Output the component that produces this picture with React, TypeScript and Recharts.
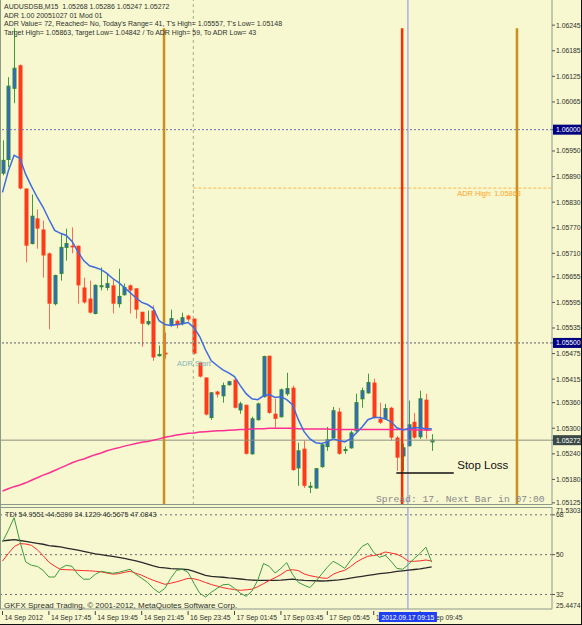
import { ComposedChart, Bar, Line, XAxis, YAxis, ReferenceLine, ReferenceDot } from 'recharts';

// AUDUSDSB M15, 14 Sep 2012 15:45 .. 17 Sep 2012 10:15 (75 bars)
const OPEN = [
  1.05898, 1.0593, 1.06097, 1.06151, 1.05862, 1.05733, 1.05792, 1.05766, 1.0571, 1.05592,
  1.05663, 1.05724, 1.05728, 1.05728, 1.0563, 1.05604, 1.05569, 1.05632, 1.0563, 1.05635,
  1.05592, 1.05613, 1.05635, 1.05628, 1.05573, 1.05545, 1.05576, 1.0547, 1.05477, 1.05541,
  1.05552, 1.05545, 1.05564, 1.05557, 1.05454, 1.05419, 1.05325, 1.05386, 1.05376, 1.05402,
  1.05414, 1.05343, 1.05355, 1.0524, 1.0532, 1.05374, 1.0547, 1.05334, 1.05327, 1.05381,
  1.05395, 1.05207, 1.05252, 1.05163, 1.0516, 1.0521, 1.05257, 1.05278, 1.05339, 1.05249,
  1.05254, 1.05294, 1.05369, 1.05383, 1.05407, 1.05322, 1.05322, 1.05348, 1.05278, 1.05235,
  1.05259, 1.05315, 1.0528, 1.05367, 1.05268,
];
const HIGH = [
  1.05975, 1.06123, 1.06238, 1.06153, 1.05862, 1.05848, 1.05813, 1.05787, 1.05712, 1.0566,
  1.05757, 1.05768, 1.05771, 1.05728, 1.05653, 1.05646, 1.05637, 1.05677, 1.05663, 1.05651,
  1.05674, 1.05639, 1.05637, 1.05628, 1.05573, 1.05576, 1.05588, 1.05494, 1.05524, 1.05578,
  1.05555, 1.05571, 1.05566, 1.05557, 1.05456, 1.05419, 1.05385, 1.05388, 1.05407, 1.05411,
  1.05414, 1.05362, 1.05355, 1.05327, 1.0536, 1.0547, 1.0547, 1.05369, 1.05393, 1.0543,
  1.054, 1.05266, 1.05271, 1.05174, 1.05207, 1.05264, 1.05303, 1.0535, 1.05348, 1.05257,
  1.05294, 1.05381, 1.05395, 1.05428, 1.05416, 1.0536, 1.05357, 1.0535, 1.05282, 1.05264,
  1.05365, 1.05336, 1.05388, 1.05381, 1.05286,
];
const LOW = [
  1.05893, 1.05912, 1.06062, 1.0586, 1.05689, 1.05731, 1.05721, 1.05653, 1.05532, 1.05588,
  1.05646, 1.05693, 1.0571, 1.05592, 1.05592, 1.05569, 1.05567, 1.05623, 1.05623, 1.05569,
  1.05583, 1.05611, 1.05569, 1.05557, 1.05491, 1.05541, 1.05458, 1.05468, 1.05463, 1.05538,
  1.05534, 1.05541, 1.0555, 1.05473, 1.05419, 1.0533, 1.0532, 1.05372, 1.0536, 1.054,
  1.05346, 1.05334, 1.05238, 1.05238, 1.05318, 1.05372, 1.05334, 1.05301, 1.05325, 1.05376,
  1.052, 1.05165, 1.0516, 1.05148, 1.05158, 1.05207, 1.05247, 1.05276, 1.05238, 1.0524,
  1.05252, 1.05292, 1.05348, 1.05381, 1.05322, 1.0531, 1.0532, 1.05271, 1.052, 1.052,
  1.05257, 1.05275, 1.05275, 1.05275, 1.05247,
];
const CLOSE = [
  1.05928, 1.06102, 1.06144, 1.05862, 1.05728, 1.05797, 1.05768, 1.05705, 1.05592, 1.05658,
  1.05724, 1.05733, 1.05724, 1.05635, 1.05595, 1.05571, 1.05635, 1.05634, 1.05639, 1.05592,
  1.05609, 1.0563, 1.05623, 1.05578, 1.05545, 1.0555, 1.05466, 1.05473, 1.05473, 1.05557,
  1.05541, 1.05559, 1.05555, 1.05475, 1.05421, 1.05332, 1.05383, 1.05379, 1.054, 1.05409,
  1.05348, 1.05357, 1.0524, 1.05322, 1.05357, 1.05468, 1.05336, 1.05322, 1.0539, 1.05393,
  1.05202, 1.05247, 1.05165, 1.05164, 1.05205, 1.05261, 1.05273, 1.05341, 1.0524, 1.0525,
  1.05289, 1.0536, 1.05388, 1.05407, 1.05325, 1.05313, 1.05346, 1.05278, 1.05231, 1.05254,
  1.05308, 1.05278, 1.05369, 1.05294, 1.05272,
];
// blue fast MA and magenta slow MA
const MA_FAST = [
  1.05853, 1.05903, 1.0594, 1.05933, 1.05895, 1.05867, 1.05841, 1.05818, 1.0579, 1.05764,
  1.05757, 1.05752, 1.05738, 1.05714, 1.05693, 1.05681, 1.05677, 1.05672, 1.05663, 1.05651,
  1.05642, 1.0563, 1.05618, 1.05606, 1.05595, 1.0559, 1.05581, 1.05552, 1.05543, 1.05541,
  1.05543, 1.05545, 1.05548, 1.05536, 1.05515, 1.05484, 1.05458, 1.05447, 1.05437, 1.0543,
  1.05421, 1.054, 1.05381, 1.05369, 1.05367, 1.05376, 1.05379, 1.05372, 1.05374, 1.05367,
  1.05355, 1.0532, 1.05292, 1.05275, 1.05266, 1.05264, 1.05268, 1.05275, 1.05271, 1.05268,
  1.05275, 1.05289, 1.05303, 1.0532, 1.05325, 1.05325, 1.05322, 1.05315, 1.05301, 1.05296,
  1.05299, 1.05301, 1.05301, 1.05299, 1.05299,
];
const MA_SLOW = [
  1.05153, 1.05158, 1.05163, 1.05167, 1.05172, 1.05178, 1.05184, 1.0519, 1.05195, 1.05201,
  1.05207, 1.05213, 1.05219, 1.05224, 1.05228, 1.05233, 1.05238, 1.05242, 1.05247, 1.05251,
  1.05254, 1.05258, 1.05261, 1.05264, 1.05267, 1.05269, 1.05272, 1.05275, 1.05279, 1.05281,
  1.05284, 1.05286, 1.05288, 1.05289, 1.05291, 1.05292, 1.05293, 1.05294, 1.05294, 1.05295,
  1.05296, 1.05297, 1.05297, 1.05298, 1.05299, 1.05299, 1.053, 1.053, 1.053, 1.053,
  1.053, 1.05299, 1.05298, 1.05298, 1.05298, 1.05298, 1.05298, 1.05297, 1.05297, 1.05297,
  1.05297, 1.05297, 1.05297, 1.05297, 1.05297, 1.05297, 1.05297, 1.05297, 1.05297, 1.05297,
  1.05297, 1.05296, 1.05296, 1.05296, 1.05296,
];
// TDI: RSI price line (green), signal (red), market base (black)
const TDI_RSI = [
  55.7, 61.0, 66.7, 56.0, 46.7, 45.2, 44.7, 42.9, 39.9, 39.9,
  43.8, 45.2, 44.7, 41.1, 38.9, 38.9, 41.1, 42.5, 42.0, 41.6,
  42.0, 42.7, 43.4, 41.1, 39.3, 37.5, 34.8, 32.8, 34.8, 39.3,
  42.9, 43.4, 42.0, 37.1, 32.6, 30.9, 33.0, 34.8, 36.4, 36.6,
  34.8, 32.6, 31.2, 33.5, 38.4, 46.0, 44.7, 41.7, 43.8, 46.4,
  41.1, 37.5, 36.2, 35.1, 38.0, 41.1, 44.3, 47.0, 45.6, 43.8,
  47.4, 50.4, 53.7, 55.1, 51.0, 48.8, 49.7, 47.0, 43.8, 43.4,
  45.6, 48.3, 50.6, 53.4, 46.6,
];
const TDI_SIGNAL = [
  47.1, 50.5, 53.6, 55.0, 54.8, 54.2, 52.2, 49.6, 46.6, 44.8,
  43.3, 43.2, 43.1, 42.9, 42.8, 42.7, 42.5, 42.2, 41.7, 41.2,
  41.4, 42.0, 42.5, 41.6, 40.7, 39.5, 38.4, 37.5, 36.6, 37.1,
  37.7, 38.5, 39.3, 39.1, 38.4, 37.4, 36.5, 35.8, 35.1, 34.6,
  34.2, 33.9, 34.1, 34.4, 35.5, 36.9, 38.3, 39.6, 41.0, 42.8,
  43.2, 42.8, 41.3, 40.5, 40.0, 39.5, 39.3, 41.1, 42.2, 42.9,
  44.6, 46.6, 48.1, 49.3, 49.6, 50.2, 51.2, 50.7, 50.2, 48.9,
  47.0, 47.0, 47.2, 47.6, 47.1,
];
const TDI_BASE = [
  56.2, 56.5, 56.8, 56.4, 56.0, 55.5, 55.1, 54.7, 54.1, 53.8,
  53.5, 53.0, 52.5, 52.0, 51.5, 50.9, 50.4, 50.0, 49.6, 49.2,
  48.8, 48.3, 47.8, 47.2, 46.5, 45.7, 44.9, 44.3, 44.0, 43.7,
  43.6, 43.4, 43.2, 42.4, 41.5, 40.6, 40.2, 40.0, 39.8, 39.5,
  39.3, 39.0, 38.7, 38.5, 38.4, 38.4, 38.4, 38.4, 38.5, 38.7,
  38.9, 38.6, 38.4, 38.3, 38.2, 38.1, 38.2, 38.4, 38.6, 38.9,
  39.4, 39.8, 40.2, 40.6, 41.0, 41.4, 41.7, 42.0, 42.4, 42.7,
  43.0, 43.3, 43.6, 44.0, 44.5,
];

const PRICE_TICKS = [
  1.06245, 1.06185, 1.06125, 1.06065, 1.06, 1.0595, 1.0589, 1.0583, 1.0577, 1.0571, 1.05655,
  1.05595, 1.05535, 1.055, 1.05475, 1.05415, 1.0536, 1.053, 1.05272, 1.0524, 1.0518, 1.05125,
];
const TDI_TICKS = [71.5303, 68, 50, 32, 25.4474];
const TDI_LEVELS = [68, 50, 32];
const TIME_TICKS = [0, 8, 16, 24, 32, 40, 48, 56, 64, 72];
const TIME_LABELS = [
  '14 Sep 2012', '14 Sep 17:45', '14 Sep 19:45', '14 Sep 21:45', '16 Sep 23:45',
  '17 Sep 01:45', '17 Sep 03:45', '17 Sep 05:45', '17 Sep 07:45', '17 Sep 09:45',
];

const CROSSHAIR_BAR = 69.9;
const CROSSHAIR_LABEL = '2012.09.17 09:15';
const ADR_START_BAR = 32.9;
const SESSION_LINE_1 = 27.85;
const SESSION_LINE_2 = 88.7;
const ENTRY_BAR = 68.9;
const ADR_HIGH = 1.05863;
const STOP_LOSS = 1.05195;
const LAST_PRICE = 1.05272;
const PRICE_TOP = 1.06304;
const PRICE_BOTTOM = 1.0512;
const LINE_TOP = 1.06238;
const X_DOMAIN = [-0.43, 94.74];

const HEADER = [
  'AUDUSDSB,M15  1.05268 1.05286 1.05247 1.05272',
  'ADR 1.00 20051027 01 Mod 01',
  "ADR Value= 72, Reached= No, Today's Range= 41, T's High= 1.05557, T's Low= 1.05148",
  'Target High= 1.05863, Target Low= 1.04842 / To ADR High= 59, To ADR Low= 43',
];
const TDI_TITLE = 'TDI 54.9551 44.5390 34.1229 46.5675 47.0843';
const COPYRIGHT = 'GKFX Spread Trading, © 2001-2012, MetaQuotes Software Corp.';

const BG = '#f7f7d0';
const FRAME = '#8c9a8c';
const TEXT = '#2e332e';
const FONT = '"Liberation Sans", Arial, sans-serif';

const bars = OPEN.map((o, i) => ({
  i,
  open: o,
  high: HIGH[i],
  low: LOW[i],
  close: CLOSE[i],
  range: [LOW[i], HIGH[i]],
  ma: MA_FAST[i],
  ma200: MA_SLOW[i],
  rsi: TDI_RSI[i],
  sig: TDI_SIGNAL[i],
  base: TDI_BASE[i],
}));

function Candle(props: any) {
  const { x, y, width, height, payload } = props;
  if (!payload) return null;
  const { open, close, high, low } = payload;
  const top = Math.min(y, y + height);
  const h = Math.abs(height);
  const span = high - low;
  const py = (v: number) => (span > 0 ? top + ((high - v) / span) * h : top);
  const cx = Math.round(x + width / 2) + 0.5;
  const up = close >= open;
  const bTop = py(Math.max(open, close));
  const bh = Math.max(1, py(Math.min(open, close)) - bTop);
  return (
    <g>
      <line x1={cx} x2={cx} y1={top} y2={top + h} stroke={up ? '#3f9a3f' : '#ff6a52'} strokeWidth={1} />
      {up ? (
        <rect x={cx - 1.5} y={bTop} width={3} height={bh} fill="#3562d8" stroke="#2f8a34" strokeWidth={1} />
      ) : (
        <rect x={cx - 2} y={bTop} width={4} height={bh} fill="#ff3a18" />
      )}
    </g>
  );
}

const HIGHLIGHT: Record<string, string> = {
  '1.06000': '#000080',
  '1.05500': '#000080',
  '1.05272': '#3b4a44',
};

function PriceTick(props: any) {
  const { x, y, payload } = props;
  const label = Number(payload.value).toFixed(5);
  const hl = HIGHLIGHT[label];
  return (
    <g>
      <line x1={x} x2={x + 3} y1={y} y2={y} stroke="#555" />
      {hl && <rect x={x + 1} y={y - 5} width={29} height={10} fill={hl} />}
      <text x={x + 4} y={y + 2.5} fontSize={6.8} fill={hl ? '#fff' : TEXT} fontFamily={FONT}>
        {label}
      </text>
    </g>
  );
}

function TdiTick(props: any) {
  const { x, y, payload } = props;
  const v = payload.value;
  const isLevel = TDI_LEVELS.includes(v);
  const dy = isLevel ? 2.5 : v > 50 ? 6 : -1;
  return (
    <g>
      {isLevel && <line x1={x} x2={x + 3} y1={y} y2={y} stroke="#555" />}
      <text x={x + 4} y={y + dy} fontSize={6.8} fill={TEXT} fontFamily={FONT}>
        {String(v)}
      </text>
    </g>
  );
}

function TimeTick(props: any) {
  const { x, y, payload } = props;
  const v = payload.value;
  if (v === CROSSHAIR_BAR) {
    return (
      <g>
        <rect x={x - 29} y={y + 3} width={58} height={10} fill="#1f3ff0" />
        <text x={x} y={y + 10.5} textAnchor="middle" fontSize={6.8} fill="#fff" fontFamily={FONT}>
          {CROSSHAIR_LABEL}
        </text>
      </g>
    );
  }
  const label = TIME_LABELS[TIME_TICKS.indexOf(v)];
  return (
    <g>
      <line x1={x} x2={x} y1={y + 2} y2={y + 6} stroke="#444" />
      <text x={x + 2} y={y + 10.5} fontSize={6.8} fill={TEXT} fontFamily={FONT}>
        {label}
      </text>
    </g>
  );
}

function Anno(props: any) {
  const { viewBox, text, dx = 0, dy = 0, size = 7, color = TEXT, family = FONT } = props;
  if (!viewBox) return null;
  return (
    <text x={viewBox.x + dx} y={viewBox.y + dy} fontSize={size} fill={color} fontFamily={family} style={{ whiteSpace: 'pre' }}>
      {text}
    </text>
  );
}

export default function App() {
  return (
    <div style={{ position: 'fixed', left: 0, top: 0, width: 582, height: 625, background: BG, overflow: 'hidden' }}>
      <div style={{ position: 'absolute', left: 0, top: 0 }}>
        <ComposedChart width={582} height={505} data={bars} margin={{ top: 0, right: 0, bottom: 0, left: 0 }}>
          <XAxis dataKey="i" type="number" domain={X_DOMAIN} allowDataOverflow hide />
          <YAxis
            orientation="right"
            width={30}
            domain={[PRICE_BOTTOM, PRICE_TOP]}
            allowDataOverflow
            ticks={PRICE_TICKS}
            interval={0}
            tickSize={0}
            tickMargin={0}
            tickLine={false}
            axisLine={{ stroke: FRAME }}
            tick={<PriceTick />}
          />
          <ReferenceLine y={1.06} stroke="#7272b4" strokeDasharray="2 2" />
          <ReferenceLine y={1.055} stroke="#5a5a6a" strokeDasharray="2 2" />
          <ReferenceLine y={LAST_PRICE} stroke="#8f9080" />
          <ReferenceLine x={ADR_START_BAR} stroke="#a9a88e" strokeDasharray="3 3" />
          <ReferenceLine
            segment={[{ x: ADR_START_BAR, y: ADR_HIGH }, { x: X_DOMAIN[1], y: ADR_HIGH }]}
            stroke="#ffb848"
            strokeDasharray="3 2"
          />
          <ReferenceLine segment={[{ x: SESSION_LINE_1, y: LINE_TOP }, { x: SESSION_LINE_1, y: PRICE_BOTTOM }]} stroke="#c8901e" strokeWidth={2.5} />
          <ReferenceLine segment={[{ x: SESSION_LINE_2, y: LINE_TOP }, { x: SESSION_LINE_2, y: PRICE_BOTTOM }]} stroke="#c8901e" strokeWidth={2.5} />
          <ReferenceLine segment={[{ x: ENTRY_BAR, y: LINE_TOP }, { x: ENTRY_BAR, y: PRICE_BOTTOM }]} stroke="#ff2a00" strokeWidth={2.5} />
          <ReferenceLine x={CROSSHAIR_BAR} stroke="#8a8af0" />
          <ReferenceLine segment={[{ x: 67.9, y: STOP_LOSS }, { x: 77.8, y: STOP_LOSS }]} stroke="#111" strokeWidth={1.5} />
          <Bar dataKey="range" barSize={4} shape={<Candle />} isAnimationActive={false} />
          <Line dataKey="ma200" stroke="#ff2f92" strokeWidth={1.5} dot={false} activeDot={false} legendType="none" isAnimationActive={false} />
          <Line dataKey="ma" stroke="#3e6ce0" strokeWidth={1.5} dot={false} activeDot={false} legendType="none" isAnimationActive={false} />
          <ReferenceDot x={78.4} y={ADR_HIGH} r={0} fill="none" stroke="none"
            label={<Anno text={'ADR High: 1.05863'} dy={8} size={7.4} color="#ffa424" />} />
          <ReferenceDot x={30.1} y={1.05447} r={0} fill="none" stroke="none"
            label={<Anno text="ADR Start" size={7.5} color="#86b4ba" />} />
          <ReferenceDot x={78.4} y={STOP_LOSS} r={0} fill="none" stroke="none"
            label={<Anno text="Stop Loss" dy={-4} size={11.5} color="#111" />} />
          <ReferenceDot x={64.4} y={PRICE_BOTTOM} r={0} fill="none" stroke="none"
            label={<Anno text="Spread: 17. Next Bar in 07:00" dy={-3} size={9.7} color="#8a8a8a" family={'"Liberation Mono", monospace'} />} />
        </ComposedChart>
      </div>
      <div style={{ position: 'absolute', left: 0, top: 505 }}>
        <ComposedChart width={582} height={120} data={bars} margin={{ top: 2, right: 0, bottom: 0, left: 0 }}>
          <XAxis
            dataKey="i"
            type="number"
            domain={X_DOMAIN}
            allowDataOverflow
            ticks={[...TIME_TICKS, CROSSHAIR_BAR]}
            interval={0}
            height={16}
            tickSize={0}
            tickMargin={0}
            tickLine={false}
            axisLine={{ stroke: FRAME }}
            tick={<TimeTick />}
          />
          <YAxis
            orientation="right"
            width={30}
            domain={[TDI_TICKS[4], TDI_TICKS[0]]}
            allowDataOverflow
            ticks={TDI_TICKS}
            interval={0}
            tickSize={0}
            tickMargin={0}
            tickLine={false}
            axisLine={{ stroke: FRAME }}
            tick={<TdiTick />}
          />
          {TDI_LEVELS.map((lv) => (
            <ReferenceLine key={lv} y={lv} stroke="#6e6e6e" strokeDasharray="2 3" />
          ))}
          <ReferenceLine x={CROSSHAIR_BAR} stroke="#8a8af0" />
          <Line dataKey="base" stroke="#2a2a2a" strokeWidth={1.3} dot={false} activeDot={false} isAnimationActive={false} />
          <Line dataKey="sig" stroke="#ff2a2a" strokeWidth={1} dot={false} activeDot={false} isAnimationActive={false} />
          <Line dataKey="rsi" stroke="#3c9c3c" strokeWidth={1} dot={false} activeDot={false} isAnimationActive={false} />
        </ComposedChart>
      </div>
      <svg width={582} height={625} style={{ position: 'absolute', left: 0, top: 0, pointerEvents: 'none' }}>
        {HEADER.map((t, k) => (
          <text key={k} x={4} y={9 + k * 8.6} fontSize={7} fill={TEXT} fontFamily={FONT} style={{ whiteSpace: 'pre' }}>
            {t}
          </text>
        ))}
        <text x={5} y={517} fontSize={7.2} fill={TEXT} fontFamily={FONT}>{TDI_TITLE}</text>
        <text x={4} y={608} fontSize={8} fill={TEXT} fontFamily={FONT}>{COPYRIGHT}</text>
        <line x1={0.5} x2={0.5} y1={0} y2={609} stroke={FRAME} />
        <line x1={0} x2={552} y1={504.5} y2={504.5} stroke={FRAME} />
        <line x1={0} x2={552} y1={507.5} y2={507.5} stroke={FRAME} />
        <line x1={581.5} x2={581.5} y1={0} y2={625} stroke="#111" />
        <line x1={0} x2={582} y1={624.5} y2={624.5} stroke="#111" />
      </svg>
    </div>
  );
}
